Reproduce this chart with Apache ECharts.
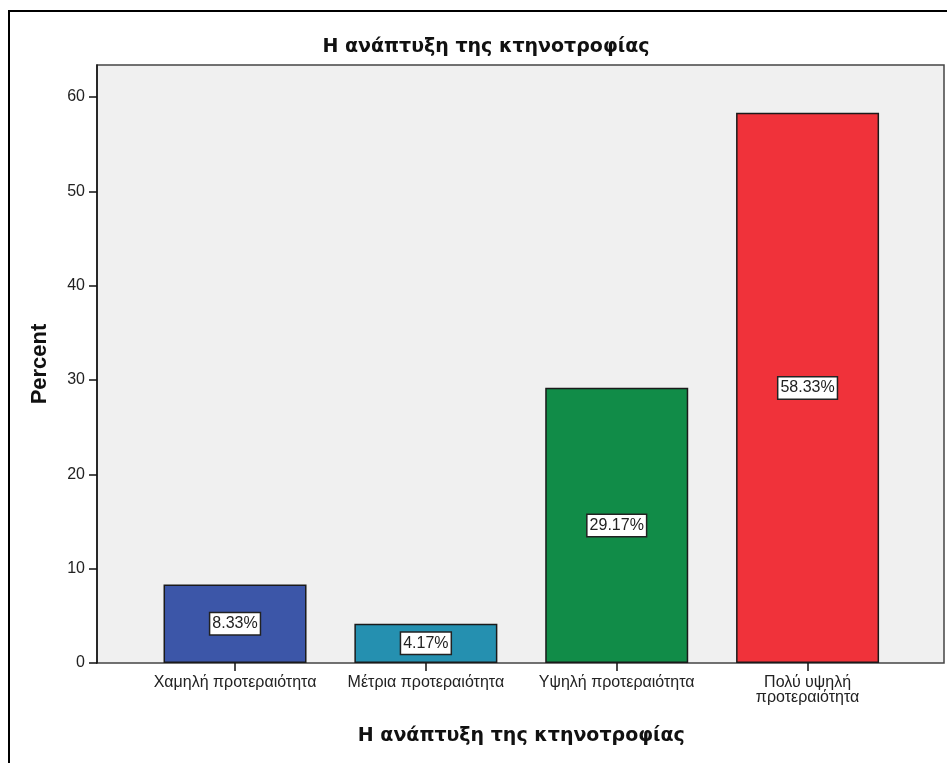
<!DOCTYPE html>
<html>
<head>
<meta charset="utf-8">
<script src="https://cdn.jsdelivr.net/npm/echarts@6/dist/echarts.min.js"></script>
<style>
html,body{margin:0;padding:0;background:#fff;}
#chart{width:947px;height:763px;}
</style>
</head>
<body>
<div id="chart"></div>
<script>
// ---- data ----
const categories = ['Χαμηλή προτεραιότητα', 'Μέτρια προτεραιότητα', 'Υψηλή προτεραιότητα', 'Πολύ υψηλή\nπροτεραιότητα'];
const percents = [8.33, 4.17, 29.17, 58.33];
const yTicks = [0, 10, 20, 30, 40, 50, 60];
const chartTitle = 'Η ανάπτυξη της κτηνοτροφίας';
const xTitle = 'Η ανάπτυξη της κτηνοτροφίας';
const yTitle = 'Percent';

// ---- styles ----
const barColors = ['#3c56a8', '#2590b0', '#118c48', '#f0323a'];
const yMax = 63.4;

const chart = echarts.init(document.getElementById('chart'), null, {renderer: 'canvas'});
chart.setOption({
  animation: false,
  backgroundColor: '#ffffff',
  title: {
    text: chartTitle,
    left: 481, top: 33, textAlign: 'center',
    textStyle: {fontFamily: 'DejaVu Sans', fontSize: 19, fontWeight: 'bold', color: '#111'}
  },
  graphic: [{
    type: 'rect', z: -10, silent: true,
    shape: {x: 9, y: 11, width: 960, height: 800},
    style: {fill: 'none', stroke: '#000', lineWidth: 2}
  }],
  grid: [
    {left: 97, right: 3, top: 65, bottom: 100, show: true, backgroundColor: '#f0f0f0', borderColor: '#444', borderWidth: 1.5},
    {left: 139.6, right: 44, top: 65, bottom: 100}
  ],
  xAxis: [
    {gridIndex: 0, type: 'value', min: 0, max: 1, show: false},
    {
      gridIndex: 1, type: 'category', data: categories,
      axisLine: {show: false},
      axisTick: {show: true, alignWithLabel: true, length: 8, lineStyle: {color: '#111', width: 1.5}},
      axisLabel: {fontFamily: 'Liberation Sans', fontSize: 16, color: '#222', margin: 12, lineHeight: 15, interval: 0},
      name: xTitle, nameLocation: 'middle', nameGap: 64,
      nameTextStyle: {fontFamily: 'DejaVu Sans', fontSize: 19, fontWeight: 'bold', color: '#111'}
    }
  ],
  yAxis: [
    {
      gridIndex: 0, type: 'value', min: 0, max: yMax,
      axisLine: {show: true, lineStyle: {color: '#111', width: 1.5}},
      axisTick: {show: true, length: 8, customValues: yTicks, lineStyle: {color: '#111', width: 1.5}},
      axisLabel: {customValues: yTicks, fontFamily: 'Liberation Sans', fontSize: 16, color: '#222', margin: 12},
      splitLine: {show: false},
      name: yTitle, nameLocation: 'middle', nameGap: 46, nameRotate: 90,
      nameTextStyle: {fontFamily: 'Liberation Sans', fontSize: 22, fontWeight: 'bold', color: '#111'}
    },
    {gridIndex: 1, type: 'value', min: 0, max: yMax, show: false}
  ],
  series: [{
    type: 'bar',
    xAxisIndex: 1, yAxisIndex: 1,
    barWidth: 143,
    data: percents.map((v, i) => ({value: v, itemStyle: {color: barColors[i]}})),
    itemStyle: {borderColor: '#1a1a1a', borderWidth: 1.5},
    label: {
      show: true, position: 'inside',
      formatter: p => p.value.toFixed(2) + '%',
      fontFamily: 'Liberation Sans', fontSize: 16, color: '#222',
      backgroundColor: '#ffffff', borderColor: '#222', borderWidth: 1.5,
      padding: [3, 2, 2, 2]
    }
  }]
});
</script>
</body>
</html>
